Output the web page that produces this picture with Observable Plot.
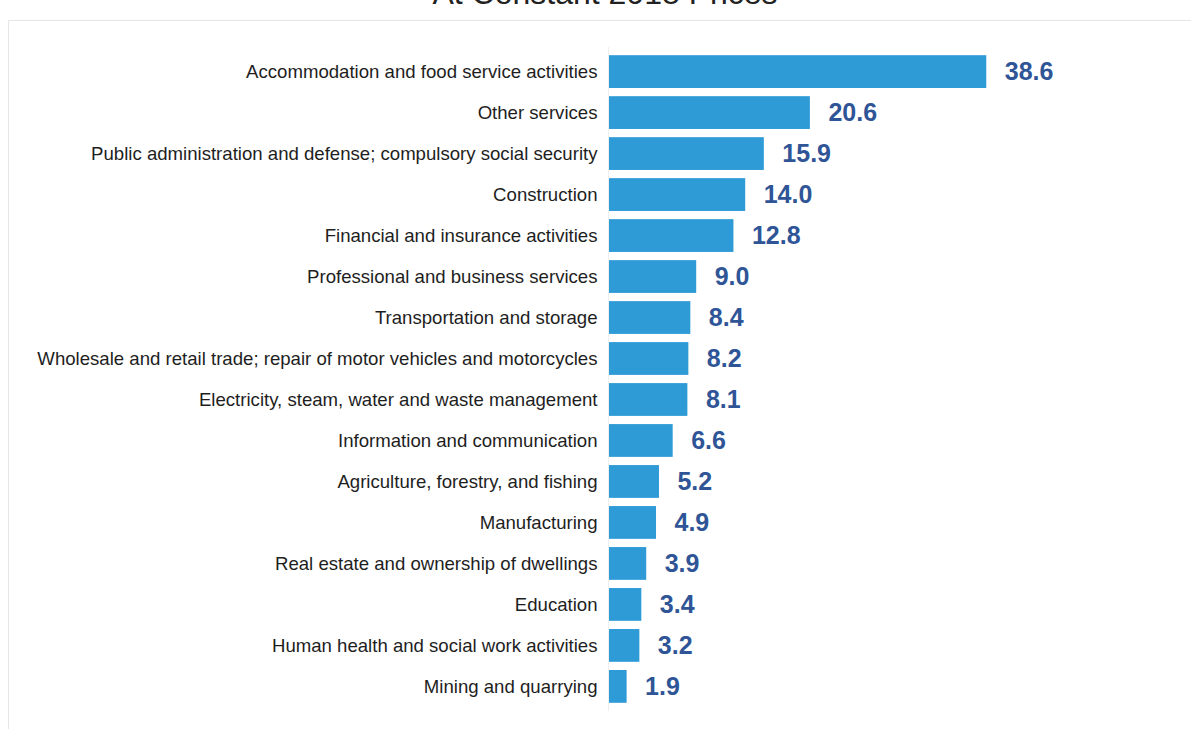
<!DOCTYPE html>
<html>
<head>
<meta charset="utf-8">
<script src="https://cdn.jsdelivr.net/npm/d3@7"></script>
<script src="https://cdn.jsdelivr.net/npm/@observablehq/plot@0.6"></script>
<style>
  html, body { margin: 0; padding: 0; background: #fff; overflow: hidden; }
  #wrap { position: relative; width: 1191px; height: 729px; }
  #title { position: absolute; left: 0; width: 1210px; top: -25px; text-align: center;
           font-family: "Liberation Sans", Arial, sans-serif; font-size: 32px; color: #222; line-height: 36px; }
  #frame { position: absolute; left: 8px; top: 20px; width: 1200px; height: 720px;
           border-left: 1px solid #e6e6e6; border-top: 1px solid #e6e6e6; }
  #chart { position: absolute; left: 0; top: 0; }
</style>
</head>
<body>
<div id="wrap">
  <div id="frame"></div>
  <div id="title">At Constant 2018 Prices</div>
  <div id="chart"></div>
</div>
<script>
const categories = [
  "Accommodation and food service activities",
  "Other services",
  "Public administration and defense; compulsory social security",
  "Construction",
  "Financial and insurance activities",
  "Professional and business services",
  "Transportation and storage",
  "Wholesale and retail trade; repair of motor vehicles and motorcycles",
  "Electricity, steam, water and waste management",
  "Information and communication",
  "Agriculture, forestry, and fishing",
  "Manufacturing",
  "Real estate and ownership of dwellings",
  "Education",
  "Human health and social work activities",
  "Mining and quarrying"
];
const values = [38.6, 20.6, 15.9, 14.0, 12.8, 9.0, 8.4, 8.2, 8.1, 6.6, 5.2, 4.9, 3.9, 3.4, 3.2, 1.9];

const data = categories.map((c, i) => ({category: c, value: values[i]}));

const chart = Plot.plot({
  width: 1191,
  height: 729,
  marginLeft: 608,
  marginRight: 191,
  marginTop: 47,
  marginBottom: 18,
  style: {fontFamily: "'Liberation Sans', Arial, sans-serif", background: "transparent", color: "#1e1e1e"},
  x: {domain: [0, 40], axis: null},
  y: {domain: categories, padding: 0.2, round: false, label: null, tickSize: 0, tickPadding: 11},
  marks: [
    Plot.barX(data, {y: "category", x: "value", fill: "#2e9bd6"}),
    Plot.ruleX([0], {stroke: "#efefef"}),
    Plot.text(data, {y: "category", x: "value", text: d => d.value.toFixed(1), dx: 18,
      textAnchor: "start", fontWeight: "bold", fontSize: 25, fill: "#2f5597"}),
    Plot.axisY({tickSize: 0, tickPadding: 11, fontSize: 18.6, label: null, fill: "#1e1e1e"})
  ]
});
document.getElementById("chart").appendChild(chart);
</script>
</body>
</html>
